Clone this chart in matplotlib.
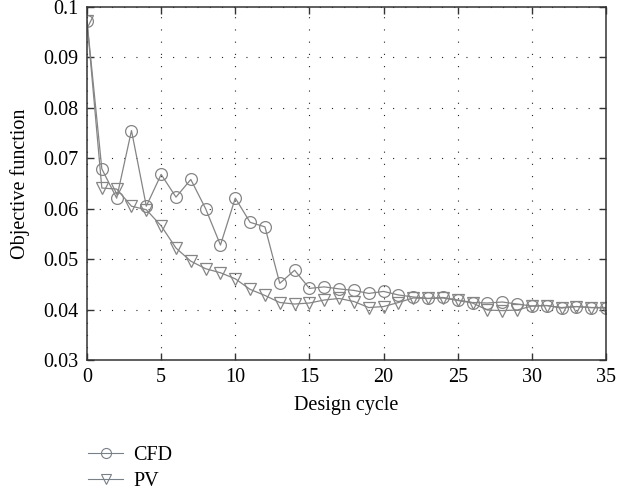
import matplotlib
matplotlib.use("Agg")
import matplotlib.pyplot as plt
from matplotlib.ticker import MultipleLocator

cycles = list(range(36))
cfd = [0.0972, 0.0679, 0.0621, 0.0755, 0.0605, 0.0668, 0.0623, 0.0658, 0.0600, 0.0528,
       0.0621, 0.0573, 0.0564, 0.0452, 0.0478, 0.0442, 0.0445, 0.0441, 0.0438, 0.0432,
       0.0436, 0.0429, 0.0425, 0.0422, 0.0424, 0.0419, 0.0414, 0.0413, 0.0415, 0.0411,
       0.0407, 0.0408, 0.0403, 0.0406, 0.0404, 0.0403]
pv = [0.0972, 0.0641, 0.0639, 0.0605, 0.0598, 0.0566, 0.0522, 0.0496, 0.0481, 0.0473,
      0.0461, 0.0440, 0.0428, 0.0414, 0.0411, 0.0413, 0.0419, 0.0422, 0.0416, 0.0404,
      0.0406, 0.0414, 0.0423, 0.0422, 0.0423, 0.0418, 0.0413, 0.0399, 0.0398, 0.0399,
      0.0407, 0.0408, 0.0404, 0.0406, 0.0404, 0.0404]
yticks = [0.03, 0.04, 0.05, 0.06, 0.07, 0.08, 0.09, 0.1]
yticklabels = ['0.03', '0.04', '0.05', '0.06', '0.07', '0.08', '0.09', '0.1']

plt.rcParams['font.family'] = ['Liberation Serif', 'DejaVu Serif']

fig = plt.figure(figsize=(6.17, 4.94), dpi=100)
ax = fig.add_axes([87/617, 1-360/494, (606-87)/617, (360-7)/494])

gray = '#858585'
ax.plot(cycles, cfd, color=gray, lw=0.9, marker='o', ms=8.5, mfc='none', mec=gray, mew=0.9, label='CFD')
ax.plot(cycles, pv, color=gray, lw=0.9, marker='v', ms=8.5, mfc='none', mec=gray, mew=0.9, label='PV')

ax.set_xlim(0, 35)
ax.set_ylim(0.03, 0.1)
ax.xaxis.set_major_locator(MultipleLocator(5))
ax.set_yticks(yticks)
ax.set_yticklabels(yticklabels)
ax.grid(True, color='#222222', linestyle=(0, (1, 10)), linewidth=0.8)
ax.tick_params(direction='in', top=True, right=True, labelsize=14.5, length=5, width=1,
               color='#333333', pad=6)
for s in ax.spines.values():
    s.set_linewidth(1.1)
    s.set_color('#333333')
ax.set_xlabel('Design cycle', fontsize=14.5, labelpad=6)
ax.set_ylabel('Objective function', fontsize=14.5, labelpad=10)

leg = fig.legend(loc='upper left', bbox_to_anchor=(88/617, 1-446/494), frameon=False,
                 fontsize=14.5, handlelength=1.75, handletextpad=0.5, labelspacing=0.35,
                 borderaxespad=0, borderpad=0, markerscale=0.85)
for h in leg.legend_handles:
    h.set_color('#7a8088')
    h.set_markeredgecolor('#7a8088')
    h.set_linewidth(0.8)
    h.set_markeredgewidth(0.8)

fig.savefig('out.png', dpi=100)
